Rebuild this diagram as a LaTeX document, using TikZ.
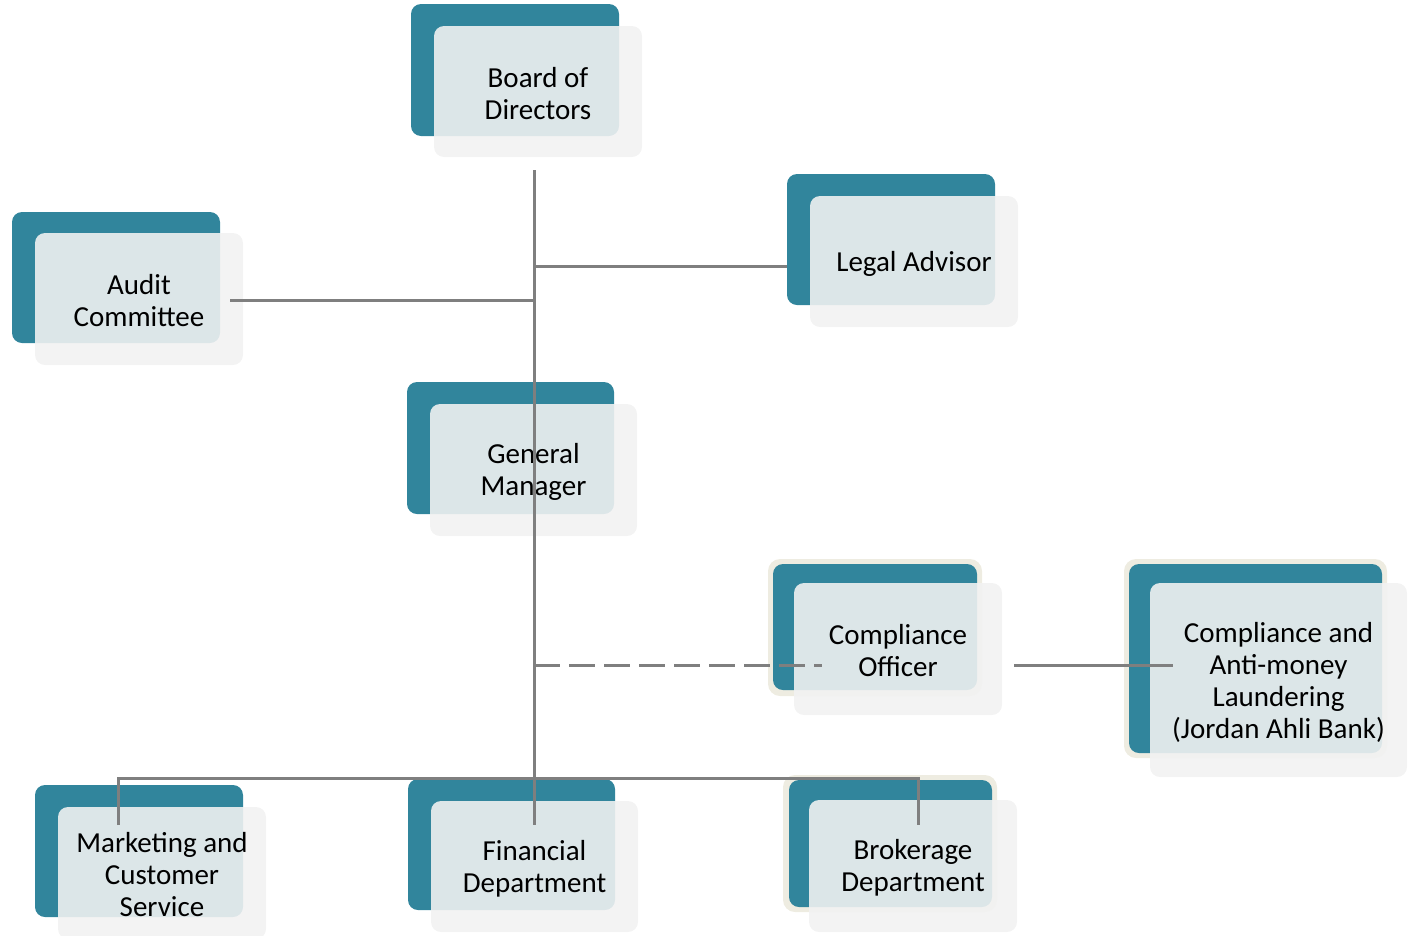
\documentclass[tikz,border=0pt]{standalone}
\usepackage{fontspec}
\setmainfont{Carlito}
\definecolor{teal1}{HTML}{31859C}
\definecolor{shade1}{HTML}{F2F2F2}
\definecolor{beige1}{HTML}{EEECE1}
\definecolor{line1}{HTML}{7F7F7F}
\tikzset{
  backbox/.style={fill=teal1, draw=none, rounded corners=10pt, inner sep=0pt},
  rimbox/.style={fill=beige1, draw=none, rounded corners=12pt, inner sep=0pt},
  frontbox/.style={fill=shade1, fill opacity=0.89, text opacity=1, draw=none, rounded corners=10pt,
    inner sep=0pt, align=center, text=black, font=\fontsize{29}{32}\selectfont},
  conn/.style={draw=line1, line width=3pt},
  dconn/.style={conn, dash pattern=on 26pt off 9pt},
}
\newcommand{\tealrect}[5]{\node[backbox, minimum width={#4pt-#2pt}, minimum height={#5pt-#3pt}] (#1) at ({(#2+#4)/2},{(#3+#5)/2}) {};}
\newcommand{\rimrect}[5]{\node[rimbox, minimum width={#4pt-#2pt}, minimum height={#5pt-#3pt}] (#1) at ({(#2+#4)/2},{(#3+#5)/2}) {};}
\newcommand{\lightrect}[6]{\node[frontbox, minimum width={#4pt-#2pt}, minimum height={#5pt-#3pt}] (#1) at ({(#2+#4)/2},{(#3+#5)/2}) {};
  \node[font=\fontsize{29}{32}\selectfont, align=center, inner sep=0pt] (#1-txt) at ([yshift=-2pt]#1.center) {#6};}
\begin{document}
\begin{tikzpicture}[x=1pt, y=-1pt]
\useasboundingbox (0,0) rectangle (1411,935);
% outlines
\rimrect{coR}{768}{559}{982}{696}
\rimrect{amlR}{1124}{559}{1387}{758}
\rimrect{brR}{783}{775}{997}{912}
% teal back boxes
\tealrect{bodT}{411}{4}{619}{136}
\tealrect{legT}{787}{174}{995}{305}
\tealrect{audT}{12}{212}{220}{343}
\tealrect{gmT}{407}{382}{614}{514}
\tealrect{coT}{773}{564}{977}{690}
\tealrect{amlT}{1129}{564}{1382}{753}
\tealrect{mktT}{35}{785}{243}{917}
\tealrect{finT}{408}{779}{615}{910}
\tealrect{brT}{789}{780}{992}{907}
% front boxes with text
\lightrect{bod}{434}{26}{642}{157}{Board of\\Directors}
\lightrect{leg}{810}{196}{1018}{327}{Legal Advisor}
\lightrect{aud}{35}{233}{243}{365}{Audit\\Committee}
\lightrect{gm}{430}{404}{637}{536}{General\\Manager}
\lightrect{co}{794}{583}{1002}{715}{Compliance\\Officer}
\lightrect{aml}{1150}{583}{1407}{777}{Compliance and\\Anti-money\\Laundering\\(Jordan Ahli Bank)}
\lightrect{mkt}{58}{807}{266}{939}{Marketing and\\Customer\\Service}
\lightrect{fin}{431}{801}{638}{932}{Financial\\Department}
\lightrect{br}{809}{800}{1017}{932}{Brokerage\\Department}
% junction coordinates
\coordinate (top) at (534,170);
\coordinate (jLeg) at (534,266);
\coordinate (jAud) at (534,300);
\coordinate (audEnd) at (230,300);
\coordinate (jCo) at (534,665);
\coordinate (coEnd) at (822,665);
\coordinate (amlStart) at (1014,665);
\coordinate (amlEnd) at (1173,665);
\coordinate (barL) at (118,778);
\coordinate (barR) at (918,778);
\coordinate (mktEnd) at (118,825);
\coordinate (finEnd) at (534,825);
\coordinate (brEnd) at (918,825);
% connectors
\draw[conn] (top) -- (finEnd);
\draw[conn] (jLeg) -- (jLeg -| legT.west);
\draw[conn] (jAud) -- (audEnd);
\draw[dconn] (jCo) -- (coEnd);
\draw[conn] (amlStart) -- (amlEnd);
\draw[conn] (mktEnd) -- (barL) -- (barR) -- (brEnd);
\end{tikzpicture}
\end{document}
